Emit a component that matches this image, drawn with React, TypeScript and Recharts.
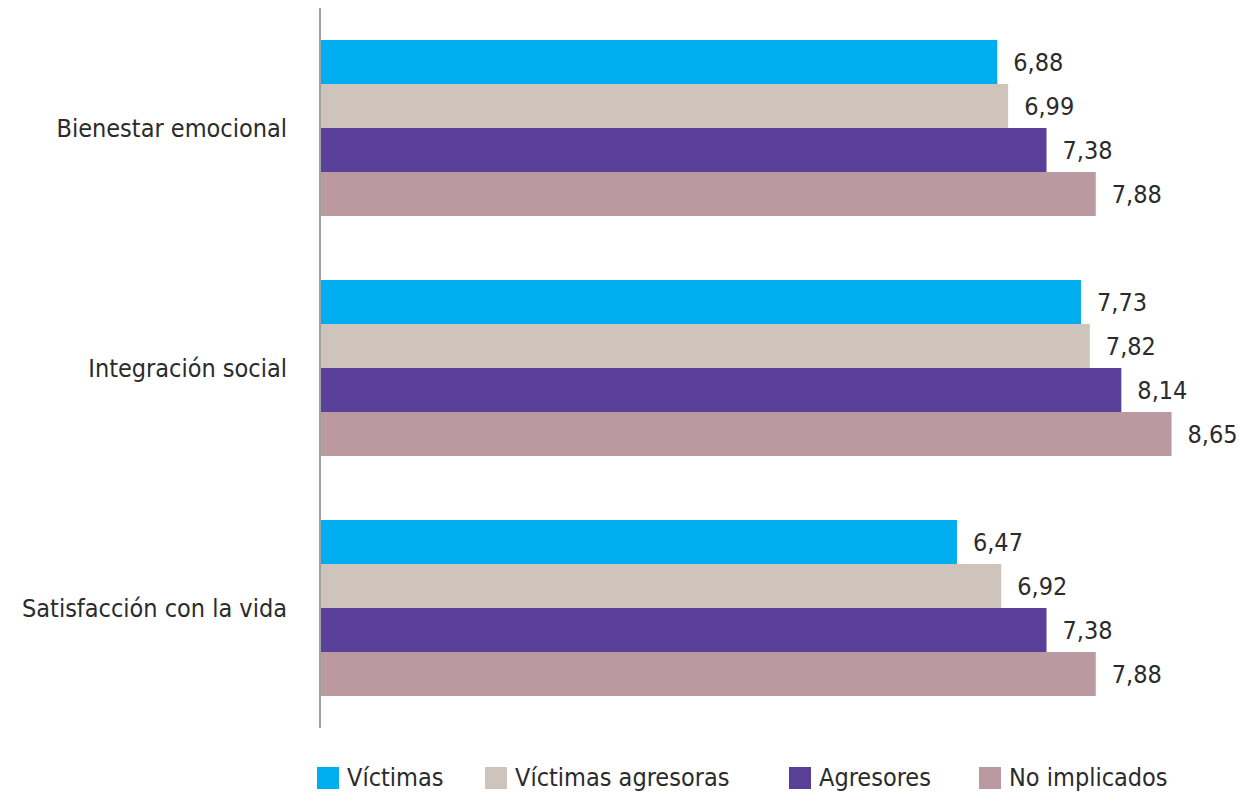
import React from "react";
import { BarChart, Bar, XAxis, YAxis, LabelList } from "recharts";

const categories = ["Bienestar emocional", "Integración social", "Satisfacción con la vida"];
const victimas = [6.88, 7.73, 6.47];
const victimasAgresoras = [6.99, 7.82, 6.92];
const agresores = [7.38, 8.14, 7.38];
const noImplicados = [7.88, 8.65, 7.88];

const SERIES = [
  { key: "victimas", name: "Víctimas", color: "#00AEEF", values: victimas, width: 168 },
  { key: "victimasAgresoras", name: "Víctimas agresoras", color: "#CEC4BB", values: victimasAgresoras, width: 304 },
  { key: "agresores", name: "Agresores", color: "#5A3F99", values: agresores, width: 190 },
  { key: "noImplicados", name: "No implicados", color: "#BB99A0", values: noImplicados, width: 220 },
];

const data = categories.map((cat, i) => {
  const row: any = { category: cat };
  SERIES.forEach((s) => (row[s.key] = s.values[i]));
  return row;
});

const FONT = '"Liberation Sans Narrow", "DejaVu Sans Condensed", "Roboto Condensed", sans-serif';
const TEXT = "#2b2b2b";
const FS = 25;

const fmt = (v: any) => Number(v).toFixed(2).replace(".", ",");

export default function App() {
  return (
    <div style={{ width: 1232, height: 787, fontFamily: FONT, fontStretch: "condensed" }}>
      <style>{"body { margin: 8px 0 0 8px; }"}</style>
      <BarChart
        width={1232}
        height={720}
        data={data}
        layout="vertical"
        margin={{ top: 0, right: 34, bottom: 0, left: 0 }}
        barCategoryGap={32}
        barGap={0}
      >
        <XAxis type="number" domain={[0, 9]} hide />
        <YAxis
          type="category"
          dataKey="category"
          width={312}
          tickLine={false}
          tickMargin={27}
          axisLine={{ stroke: "#A0A0A0", strokeWidth: 2 }}
          tick={{ fill: TEXT, fontSize: FS, fontFamily: FONT }}
        />
        {SERIES.map((s) => (
          <Bar key={s.key} dataKey={s.key} name={s.name} fill={s.color} isAnimationActive={false}>
            <LabelList
              dataKey={s.key}
              position="right"
              offset={16}
              formatter={fmt}
              style={{ fill: TEXT, fontSize: FS, fontFamily: FONT }}
            />
          </Bar>
        ))}
      </BarChart>
      <div
        style={{
          display: "flex",
          alignItems: "center",
          height: 22,
          marginTop: 39,
          paddingLeft: 309,
          color: TEXT,
          fontSize: FS,
          lineHeight: "22px",
        }}
      >
        {SERIES.map((s) => (
          <div key={s.key} style={{ display: "flex", alignItems: "center", width: s.width }}>
            <span style={{ display: "inline-block", width: 22, height: 22, background: s.color, marginRight: 8 }} />
            <span>{s.name}</span>
          </div>
        ))}
      </div>
    </div>
  );
}
